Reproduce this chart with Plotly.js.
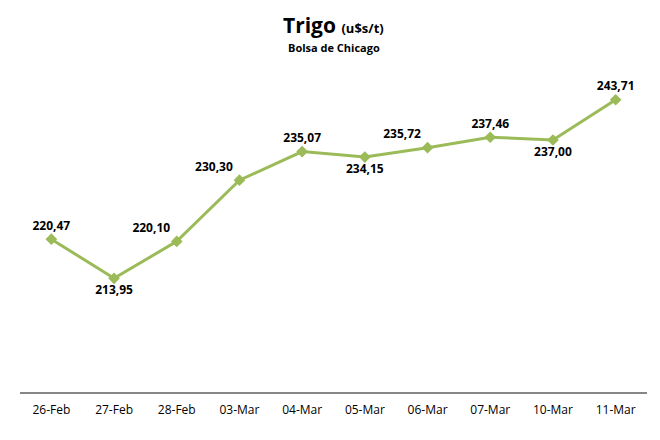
<!DOCTYPE html>
<html><head><meta charset="utf-8">
<script src="https://cdn.plot.ly/plotly-3.0.1.min.js"></script>
<style>html,body{margin:0;padding:0;background:#fff}</style>
</head><body>
<div id="chart" style="width:660px;height:440px"></div>
<script>
const dates = ["26-Feb","27-Feb","28-Feb","03-Mar","04-Mar","05-Mar","06-Mar","07-Mar","10-Mar","11-Mar"];
const prices = [220.47, 213.95, 220.10, 230.30, 235.07, 234.15, 235.72, 237.46, 237.00, 243.71];
const labelPos = ["top center","bottom center","top left","top left","top center","bottom center","top left","top center","bottom center","top center"];
const titleMain = "Trigo";
const titleUnit = "(u$s/t)";
const subtitle = "Bolsa de Chicago";

const FONT = "Open Sans, Liberation Sans, sans-serif";

const trace = {
  x: dates, y: prices, type: "scatter", mode: "lines+markers+text",
  line: {color: "#9BBB59", width: 3},
  marker: {symbol: "diamond", size: 9, color: "#9BBB59"},
  texttemplate: "%{y:.2f}",
  textposition: labelPos,
  textfont: {family: FONT, size: 12, color: "#000", weight: "bold"},
  cliponaxis: false,
  hoverinfo: "x+y"
};

const layout = {
  width: 660, height: 440,
  separators: ",.",
  margin: {l: 20, r: 13, t: 62, b: 48},
  paper_bgcolor: "#fff", plot_bgcolor: "#fff",
  showlegend: false,
  annotations: [
    {xref: "paper", yref: "paper", x: 0.5, y: 1.112, xanchor: "center", yanchor: "middle", showarrow: false,
     text: "<b>" + titleMain + "</b> <span style='font-size:13px'><b>" + titleUnit + "</b></span>",
     font: {family: FONT, size: 21, color: "#000"}},
    {xref: "paper", yref: "paper", x: 0.5, y: 1.045, xanchor: "center", yanchor: "middle", showarrow: false,
     text: "<b>" + subtitle + "</b>",
     font: {family: FONT, size: 11, color: "#000"}}
  ],
  xaxis: {
    type: "category", range: [-0.5, 9.5], autorange: false,
    showline: true, linecolor: "#868686", linewidth: 1.5,
    showgrid: false, zeroline: false, ticks: "",
    tickfont: {family: FONT, size: 12, color: "#000"},
    ticklabelstandoff: 6
  },
  yaxis: {
    range: [195, 250], visible: false, showgrid: false, zeroline: false
  }
};

Plotly.newPlot("chart", [trace], layout, {displayModeBar: false, staticPlot: true});
</script>
</body></html>
